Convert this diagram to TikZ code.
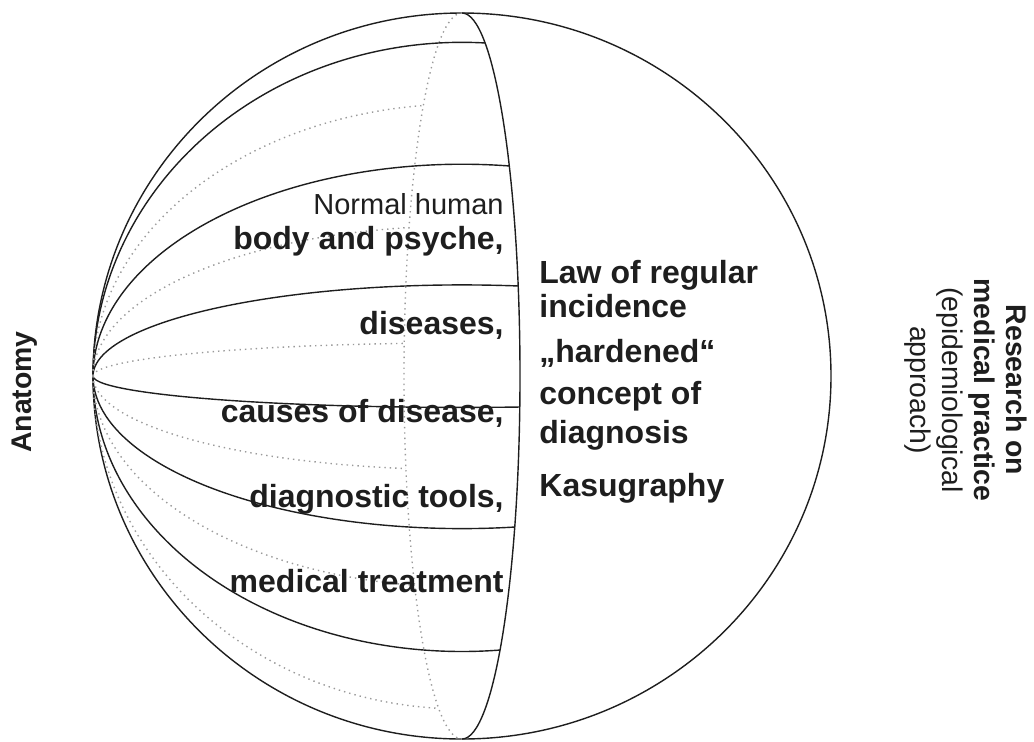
\documentclass[tikz,border=0pt]{standalone}
\usepackage{fontspec}
\setmainfont{Liberation Sans}
\usepackage{tikz}
\usetikzlibrary{positioning}
\definecolor{ink}{HTML}{1E1E1E}
\definecolor{hidden}{HTML}{9A9A9A}
\tikzset{
  meridian/.style={draw=ink, line width=0.7pt},
  hiddenline/.style={draw=hidden, dotted, line width=0.7pt},
  fieldlabel/.style={text=ink, inner sep=0pt, font=\fontsize{16}{18}\selectfont\bfseries},
  thinlabel/.style={text=ink, inner sep=0pt, font=\fontsize{14.5}{17}\selectfont},
  sidelabel/.style={text=ink, inner sep=0pt, align=center, font=\fontsize{14.2}{16}\selectfont}
}
\begin{document}
\begin{tikzpicture}[x=0.5pt, y=-0.5pt]
  \useasboundingbox (0,0) rectangle (1034,741);
  \coordinate (pole) at (93,376);
  \coordinate (centre) at (462,376);
  \coordinate (cuttop) at (462,13);
  % sphere and the cut
  \draw[meridian] (centre) circle[x radius=369, y radius=363];
  \draw[meridian] (cuttop) arc[start angle=-90, end angle=90, x radius=58, y radius=363];
  \draw[hiddenline] (cuttop) arc[start angle=-90, end angle=-270, x radius=58, y radius=363];
  % meridians in front
  \foreach \rad/\ang in {333.7/273.59, 211.8/277.37, 91.1/278.76, 31.4/80.99, 152.6/81.79, 275.5/84.09}
    \draw[meridian] (pole) arc[start angle=180, end angle=\ang, x radius=369, y radius=\rad];
  % meridians behind
  \foreach \rad/\ang in {272/264.03, 150/261.76, 33/260.99, 93.6/98.74, 211/97.38, 333/93.65}
    \draw[hiddenline] (pole) arc[start angle=180, end angle=\ang, x radius=369, y radius=\rad];
  % fields of anatomy
  \node[thinlabel, anchor=base east] (normal) at (504,214) {Normal human};
  \node[fieldlabel, anchor=base east] (body) at (504,249) {body and psyche,};
  \node[fieldlabel, anchor=base east] (diseases) at (504,334) {diseases,};
  \node[fieldlabel, anchor=base east] (causes) at (504,422) {causes of disease,};
  \node[fieldlabel, anchor=base east] (tools) at (504,507) {diagnostic tools,};
  \node[fieldlabel, anchor=base east] (treatment) at (504,592) {medical treatment};
  % results of research on practice
  \node[fieldlabel, anchor=base west] (law) at (539,283) {Law of regular};
  \node[fieldlabel, anchor=base west] (incidence) at (539,317) {incidence};
  \node[fieldlabel, anchor=base west] (hardened) at (539,362) {„hardened“};
  \node[fieldlabel, anchor=base west] (concept) at (539,404) {concept of};
  \node[fieldlabel, anchor=base west] (diagnosis) at (539,443) {diagnosis};
  \node[fieldlabel, anchor=base west] (kasu) at (539,496) {Kasugraphy};
  % the two approaches
  \node[sidelabel, font=\fontsize{14.2}{16}\selectfont\bfseries, rotate=90] (anatomy) at (25,392) {Anatomy};
  \node[sidelabel, rotate=-90] (practice) at (966,390) {\bfseries Research on\\\bfseries medical practice\\(epidemiological\\approach)};
\end{tikzpicture}
\end{document}
